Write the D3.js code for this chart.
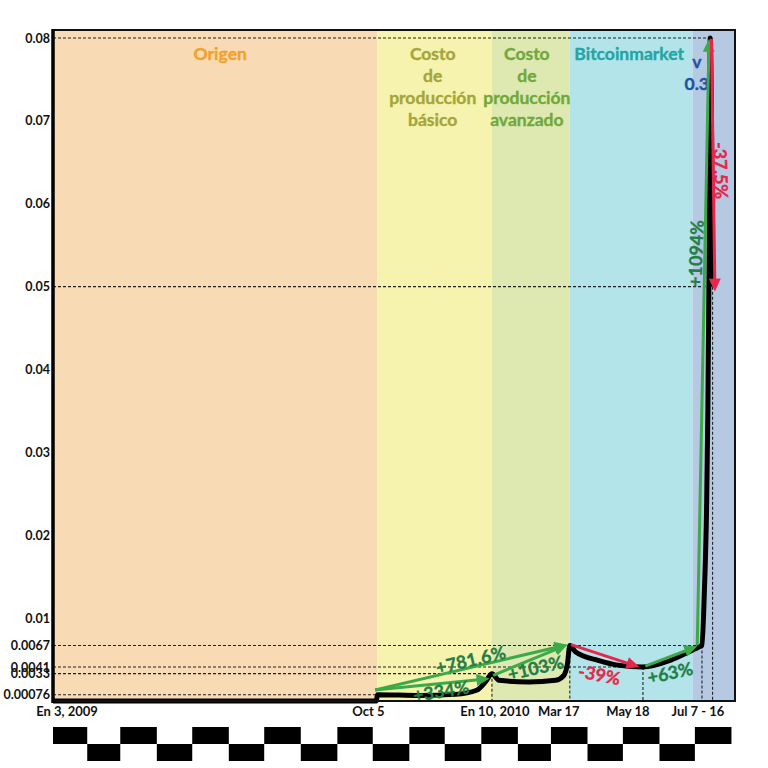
<!DOCTYPE html>
<html>
<head>
<meta charset="utf-8">
<title>Precio bitcoin 2009-2010</title>
<script src="https://cdnjs.cloudflare.com/ajax/libs/d3/7.8.5/d3.min.js"></script>
<style>
body { margin: 0; background: #fff; }
svg text { font-family: Lato, "Open Sans", sans-serif; font-weight: 700; }
</style>
</head>
<body>
<svg width="768" height="768"></svg>
<script>
var parse = d3.timeParse("%Y-%m-%d");

// etapas
var stageNames = [["Origen"], ["Costo", "de", "producción", "básico"], ["Costo", "de", "producción", "avanzado"], ["Bitcoinmarket"], ["v", "0.3"]];
var stageStarts = ["2009-01-03", "2009-10-05", "2010-01-10", "2010-03-17", "2010-06-29"];
var stageEnd = "2010-08-04";

// precio en USD
var priceDates = ["2009-01-03", "2009-10-04", "2009-10-05", "2009-11-10", "2009-12-10", "2009-12-28", "2010-01-05",
    "2010-01-10", "2010-01-16", "2010-02-10", "2010-03-05", "2010-03-12", "2010-03-15", "2010-03-17", "2010-03-22",
    "2010-04-10", "2010-04-28", "2010-05-18", "2010-06-10", "2010-06-27", "2010-07-04", "2010-07-07", "2010-07-09",
    "2010-07-11", "2010-07-12", "2010-07-13", "2010-07-14", "2010-07-16"];
var priceValues = [0, 0, 0.00076, 0.00066, 0.0008, 0.0013, 0.0024,
    0.0033, 0.0025, 0.0023, 0.0025, 0.0031, 0.0045, 0.0067, 0.0059,
    0.0049, 0.0043, 0.0041, 0.0049, 0.006, 0.0065, 0.0067, 0.013,
    0.024, 0.035, 0.052, 0.08, 0.05];

var yTicks = [0.00076, 0.0033, 0.0041, 0.0067, 0.01, 0.02, 0.03, 0.04, 0.05, 0.06, 0.07, 0.08];

var xLabelDates = ["2009-01-03", "2009-10-05", "2010-01-10", "2010-03-17", "2010-05-18", "2010-07-07"];
var xLabelTexts = ["En 3, 2009", "Oct 5", "En 10, 2010", "Mar 17", "May 18", "Jul 7 - 16"];

// líneas punteadas de referencia
var guideDates = ["2009-10-05", "2010-01-10", "2010-03-17", "2010-05-18", "2010-07-07", "2010-07-14", "2010-07-16"];
var guideValues = [0.00076, 0.0033, 0.0067, 0.0041, 0.0067, 0.08, 0.05];
var guideDrop = [false, true, true, true, true, false, true];

// flechas de variación
var arrowFromDates = ["2009-10-03", "2009-10-03", "2010-01-11", "2010-03-18", "2010-05-20", "2010-07-03", "2010-07-15"];
var arrowFromValues = [0.00133, 0.00133, 0.0031, 0.0068, 0.0042, 0.0067, 0.0799];
var arrowToDates = ["2010-03-15", "2010-01-08", "2010-03-15", "2010-05-15", "2010-07-03", "2010-07-13", "2010-07-18"];
var arrowToValues = [0.0068, 0.0027, 0.0068, 0.0041, 0.0066, 0.0799, 0.0494];
var arrowUp = [true, true, true, false, true, true, false];

var pctTexts = ["+781.6%", "+334%", "+103%", "-39%", "+63%", "+1094%", "-37.5%"];
var pctDates = ["2009-12-23", "2009-11-28", "2010-02-16", "2010-04-11", "2010-06-10", "2010-07-02", "2010-07-23"];
var pctValues = [0.00495, 0.00118, 0.00398, 0.00314, 0.00338, 0.054, 0.064];

// estilo
var stageFill = ["#f8dbb4", "#f5f3ad", "#dee9b1", "#b2e4ea", "#b5c9e3"];
var stageInk = ["#f2a12c", "#a5a53b", "#70a83d", "#22a6a3", "#2252a3"];
var stageLabelDx = [5, -2, -4, -2, -17];
var stageLabelY = [60, 60, 60, 60, 68];
var pctAngle = [-13, -9, -13, 11, -12, -88, 88];
var xLabelDx = [14, -9, 3, -11, -15, -4];
var green = "#3daa4a", greenInk = "#1f7f46", red = "#e6264b";

var svg = d3.select("svg");
var plotTop = 30, plotBottom = 701, plotLeft = 53, plotRight = 735;

var x = d3.scaleTime()
    .domain([parse("2009-01-03"), parse(stageEnd)])
    .range([plotLeft, plotRight]);
var y = d3.scaleLinear()
    .domain([0, 0.08])
    .range([701, 38]);

//bandas de fondo
var stageEnds = stageStarts.slice(1).concat([stageEnd]);
svg.append("g")
    .selectAll("rect")
    .data(stageStarts)
    .join("rect")
    .attr("x", function (d) { return x(parse(d)); })
    .attr("y", plotTop)
    .attr("width", function (d, i) { return x(parse(stageEnds[i])) - x(parse(d)); })
    .attr("height", plotBottom - plotTop)
    .attr("fill", function (d, i) { return stageFill[i]; });

//nombres de etapas
stageNames.forEach(function (lines, i) {
    var cx = (x(parse(stageStarts[i])) + x(parse(stageEnds[i]))) / 2 + stageLabelDx[i];
    var t = svg.append("text")
        .attr("text-anchor", "middle")
        .attr("font-size", 17.5)
        .attr("fill", stageInk[i])
        .attr("stroke", stageInk[i])
        .attr("stroke-width", 0.35);
    lines.forEach(function (s, j) {
        t.append("tspan").attr("x", cx).attr("y", stageLabelY[i] + j * 22).text(s);
    });
});

//líneas punteadas
var guides = svg.append("g")
    .attr("stroke", "#222")
    .attr("stroke-width", 1.1)
    .attr("stroke-dasharray", "3,2");
guides.selectAll("line.h")
    .data(guideDates)
    .join("line")
    .attr("class", "h")
    .attr("x1", plotLeft)
    .attr("x2", function (d) { return x(parse(d)); })
    .attr("y1", function (d, i) { return y(guideValues[i]); })
    .attr("y2", function (d, i) { return y(guideValues[i]); });
guides.selectAll("line.v")
    .data(guideDates.filter(function (d, i) { return guideDrop[i]; }))
    .join("line")
    .attr("class", "v")
    .attr("x1", function (d) { return x(parse(d)); })
    .attr("x2", function (d) { return x(parse(d)); })
    .attr("y1", function (d) { return y(guideValues[guideDates.indexOf(d)]); })
    .attr("y2", plotBottom);

//línea de precio
var price = priceDates.map(function (d, i) { return { date: parse(d), value: priceValues[i] }; });
var line = d3.line()
    .x(function (d) { return x(d.date); })
    .y(function (d) { return y(d.value); })
    .curve(d3.curveMonotoneX);
svg.append("path")
    .datum(price)
    .attr("d", line)
    .attr("fill", "none")
    .attr("stroke", "#000")
    .attr("stroke-width", 5)
    .attr("stroke-linejoin", "round");

//flechas
var headLen = 13, headHalf = 6;
var arrows = svg.append("g");
arrowFromDates.forEach(function (d, i) {
    var x0 = x(parse(d)), y0 = y(arrowFromValues[i]);
    var x1 = x(parse(arrowToDates[i])), y1 = y(arrowToValues[i]);
    var a = Math.atan2(y1 - y0, x1 - x0);
    var bx = x1 - headLen * Math.cos(a), by = y1 - headLen * Math.sin(a);
    var col = arrowUp[i] ? green : red;
    arrows.append("line")
        .attr("x1", x0).attr("y1", y0)
        .attr("x2", bx + 2 * Math.cos(a)).attr("y2", by + 2 * Math.sin(a))
        .attr("stroke", col)
        .attr("stroke-width", 3);
    arrows.append("path")
        .attr("d", "M" + x1 + "," + y1 +
            "L" + (bx - headHalf * Math.sin(a)) + "," + (by + headHalf * Math.cos(a)) +
            "L" + (bx + headHalf * Math.sin(a)) + "," + (by - headHalf * Math.cos(a)) + "Z")
        .attr("fill", col);
});

//porcentajes
svg.append("g")
    .selectAll("text")
    .data(pctTexts)
    .join("text")
    .attr("transform", function (d, i) {
        return "translate(" + x(parse(pctDates[i])) + "," + y(pctValues[i]) + ") rotate(" + pctAngle[i] + ")";
    })
    .attr("text-anchor", "middle")
    .attr("dy", "0.36em")
    .attr("font-size", 18)
    .attr("fill", function (d, i) { return arrowUp[i] ? greenInk : red; })
    .attr("stroke", function (d, i) { return arrowUp[i] ? greenInk : red; })
    .attr("stroke-width", 0.35)
    .text(function (d) { return d; });

//marco
svg.append("rect")
    .attr("x", plotLeft).attr("y", plotTop)
    .attr("width", plotRight - plotLeft).attr("height", plotBottom - plotTop)
    .attr("fill", "none")
    .attr("stroke", "#111")
    .attr("stroke-width", 2);
svg.append("line")
    .attr("x1", plotLeft).attr("x2", plotLeft)
    .attr("y1", plotTop - 1).attr("y2", plotBottom + 2)
    .attr("stroke", "#000")
    .attr("stroke-width", 3.5);

//eje y
var yAxis = svg.append("g")
    .attr("transform", "translate(" + (plotLeft - 1) + ",0)")
    .call(d3.axisLeft(y).tickValues(yTicks).tickSize(0).tickPadding(2)
        .tickFormat(function (d) { return String(d); }));
yAxis.select(".domain").remove();
yAxis.attr("font-size", 12.5);
yAxis.selectAll("text").attr("fill", "#111");

//etiquetas de fecha
svg.append("g")
    .selectAll("text")
    .data(xLabelTexts)
    .join("text")
    .attr("x", function (d, i) { return x(parse(xLabelDates[i])) + xLabelDx[i]; })
    .attr("y", 716)
    .attr("text-anchor", "middle")
    .attr("font-size", 13)
    .attr("fill", "#111")
    .text(function (d) { return d; });

//tira de meses
var months = d3.timeMonth.range(new Date(2009, 0, 1), new Date(2010, 7, 1));
svg.append("g")
    .selectAll("rect")
    .data(months)
    .join("rect")
    .attr("x", function (d) { return x(d < x.domain()[0] ? x.domain()[0] : d); })
    .attr("y", function (d, i) { return i % 2 === 0 ? 727 : 744; })
    .attr("width", function (d) {
        var s = d < x.domain()[0] ? x.domain()[0] : d;
        return x(d3.timeMonth.offset(d, 1)) - x(s);
    })
    .attr("height", 17)
    .attr("fill", "#000");
</script>
</body>
</html>
